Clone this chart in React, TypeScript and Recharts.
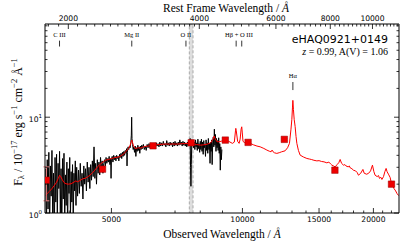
import React from 'react';
import {
  ComposedChart, Line, Scatter, XAxis, YAxis, ZAxis, ErrorBar,
  ReferenceArea, ReferenceLine, ReferenceDot,
} from 'recharts';

// ---------- DATA ----------
const redshift = 0.99;

// SDSS spectrum (observed wavelength [A], flux)
const sdssSpectrum: [number, number][] = [
  [3530, 2.9], [3545, 0.7], [3560, 3.6], [3575, 1.1], [3590, 4.3], [3605, 0.6], [3620, 3.1], [3635, 1.5],
  [3650, 4.5], [3665, 0.8], [3680, 2.6], [3695, 0.5], [3710, 3.8], [3725, 1.3], [3740, 4.1], [3755, 0.9],
  [3770, 3.3], [3785, 1.8], [3800, 4.4], [3815, 1.0], [3830, 2.9], [3845, 0.6], [3860, 3.7], [3875, 1.4],
  [3890, 4.2], [3905, 0.8], [3920, 2.5], [3935, 1.2], [3950, 3.4], [3965, 0.7], [3980, 2.9], [3995, 1.6],
  [4010, 3.8], [4025, 0.9], [4040, 2.7], [4055, 1.3], [4070, 3.2], [4085, 0.8], [4100, 2.6], [4115, 1.7],
  [4130, 3.5], [4145, 1.2], [4160, 3.0], [4180, 1.5], [4200, 2.8], [4220, 1.6], [4240, 3.3], [4260, 1.9],
  [4280, 2.6], [4300, 1.4], [4320, 3.1], [4340, 2.0], [4360, 2.9], [4380, 1.7], [4400, 3.4], [4420, 2.1],
  [4440, 3.0], [4460, 1.8], [4480, 3.2], [4500, 2.2], [4520, 3.5], [4540, 2.4], [4560, 4.9], [4580, 2.3],
  [4600, 3.3], [4620, 2.0], [4640, 3.6], [4660, 2.6], [4680, 3.4], [4700, 2.5], [4720, 3.8], [4740, 2.8],
  [4760, 3.5], [4780, 2.6], [4800, 3.3], [4820, 3.6], [4840, 3.1], [4860, 3.8], [4880, 3.3], [4900, 3.7],
  [4920, 3.4], [4940, 3.9], [4960, 3.2], [4980, 3.7], [4990, 2.3], [5000, 3.6], [5020, 3.9], [5040, 3.4],
  [5060, 4.0], [5080, 3.6], [5100, 3.9], [5120, 3.5], [5140, 4.0], [5160, 3.7], [5180, 3.9], [5200, 3.5],
  [5220, 4.1], [5240, 3.8], [5260, 4.2], [5280, 3.7], [5300, 4.3], [5320, 3.9], [5340, 4.4], [5360, 4.0],
  [5380, 4.5], [5400, 4.2], [5420, 4.7], [5430, 3.1], [5440, 4.3], [5460, 4.9], [5480, 4.6], [5500, 5.0],
  [5520, 4.8], [5540, 5.4], [5555, 6.5], [5565, 10.0], [5575, 6.0], [5590, 5.2], [5610, 4.6], [5630, 4.9],
  [5650, 4.3], [5670, 5.0], [5690, 3.9], [5710, 4.8], [5730, 4.4], [5750, 5.1], [5770, 4.5], [5790, 4.9],
  [5810, 4.2], [5830, 5.0], [5850, 4.6], [5870, 5.1], [5890, 4.7], [5920, 5.2], [5950, 4.6], [5980, 5.0],
  [6010, 4.5], [6040, 5.2], [6070, 4.8], [6100, 5.3], [6130, 4.8], [6160, 5.1], [6190, 4.7], [6220, 5.3],
  [6250, 4.9], [6280, 5.2], [6310, 4.8], [6340, 5.4], [6370, 5.0], [6400, 5.3], [6430, 4.9], [6460, 5.5],
  [6490, 5.0], [6520, 5.4], [6550, 5.0], [6580, 5.6], [6610, 5.1], [6640, 5.3], [6670, 4.9], [6700, 5.7],
  [6730, 5.1], [6760, 5.4], [6790, 5.0], [6820, 5.5], [6850, 5.1], [6880, 5.4], [6910, 4.9], [6940, 5.5],
  [6970, 5.0], [7000, 5.6], [7030, 5.1], [7060, 5.4], [7090, 5.0], [7120, 5.5], [7150, 5.1], [7180, 5.8],
  [7210, 5.2], [7240, 5.5], [7270, 5.0], [7300, 5.6], [7330, 5.1], [7360, 5.5], [7390, 5.0], [7420, 5.4],
  [7450, 4.9], [7480, 5.5], [7510, 5.0], [7540, 5.6], [7565, 5.2], [7585, 6.0], [7600, 3.0], [7615, 1.9],
  [7630, 3.2], [7650, 5.8], [7675, 5.2], [7700, 5.7], [7725, 4.8], [7750, 5.5], [7775, 4.6], [7800, 5.8],
  [7825, 4.9], [7850, 5.4], [7875, 4.5], [7900, 5.9], [7925, 4.7], [7950, 5.3], [7975, 4.3], [8000, 5.6],
  [8025, 4.6], [8050, 5.9], [8075, 4.4], [8100, 5.5], [8125, 4.1], [8150, 5.7], [8175, 4.8], [8200, 5.2],
  [8225, 3.9], [8250, 5.8], [8275, 4.5], [8300, 5.4], [8325, 4.2], [8350, 6.0], [8375, 4.6], [8400, 5.3],
  [8425, 3.3], [8450, 5.5], [8475, 4.4], [8500, 5.8], [8520, 3.2], [8545, 5.4], [8570, 6.2], [8595, 4.9],
  [8620, 7.5], [8645, 5.1], [8670, 6.6], [8695, 4.4], [8720, 6.0], [8745, 4.8], [8770, 5.7], [8795, 4.5],
  [8820, 6.1], [8845, 4.2], [8870, 5.3], [8895, 2.8], [8920, 4.9], [8945, 3.6], [8970, 4.6],
];

// Composite quasar model (observed wavelength [A], flux)
const modelSpectrum: [number, number][] = [
  [3530, 1.52], [3560, 1.60], [3600, 1.68], [3650, 1.80], [3700, 1.95], [3740, 2.10], [3775, 2.30],
  [3800, 2.48], [3820, 2.42], [3850, 2.25], [3890, 2.08], [3930, 2.02], [3980, 2.00], [4040, 2.02],
  [4100, 2.10], [4141, 2.16], [4180, 2.12], [4230, 2.18], [4300, 2.28], [4350, 2.30], [4406, 2.38],
  [4460, 2.48], [4520, 2.62], [4580, 2.80], [4642, 3.03], [4700, 3.20], [4788, 3.42], [4850, 3.56],
  [4920, 3.62], [5000, 3.70], [5080, 3.78], [5150, 3.82], [5208, 3.86], [5280, 4.00], [5340, 4.15],
  [5400, 4.40], [5470, 4.70], [5520, 5.10], [5555, 5.60], [5568, 5.77], [5585, 5.55], [5620, 5.00],
  [5660, 4.75], [5700, 4.70], [5760, 4.82], [5820, 4.75], [5890, 4.84], [5960, 4.95], [6050, 4.99],
  [6150, 5.05], [6268, 5.08], [6350, 5.15], [6450, 5.20], [6606, 5.24], [6700, 5.26], [6800, 5.22],
  [6900, 5.26], [7000, 5.24], [7090, 5.24], [7200, 5.28], [7350, 5.30], [7500, 5.32], [7612, 5.33],
  [7720, 5.25], [7850, 5.18], [8025, 5.11], [8150, 5.15], [8310, 5.24], [8450, 5.40], [8560, 5.90],
  [8610, 6.35], [8660, 5.95], [8740, 5.55], [8840, 5.54], [8950, 5.62], [9060, 5.75], [9159, 5.77],
  [9300, 5.60], [9484, 5.33], [9580, 5.50], [9640, 7.20], [9656, 7.65], [9680, 7.20], [9750, 5.60],
  [9827, 5.33], [9880, 5.90], [9930, 7.50], [9964, 7.94], [9990, 7.00], [10030, 5.60], [10100, 5.45],
  [10250, 5.40], [10417, 5.33], [10600, 5.15], [10800, 5.00], [10982, 4.91], [11200, 4.72], [11379, 4.54],
  [11550, 4.40], [11640, 4.36], [11700, 4.54], [11760, 4.36], [11850, 4.25], [11995, 4.19], [12150, 4.26],
  [12300, 4.35], [12534, 4.46], [12700, 4.80], [12826, 5.33], [12930, 7.5], [12990, 9.5], [13030, 12.5],
  [13060, 15.0], [13100, 12.0], [13150, 9.5], [13217, 8.0], [13280, 6.3], [13338, 5.33], [13450, 4.5],
  [13573, 4.02], [13800, 3.85], [14063, 3.71], [14250, 3.66], [14400, 3.62], [14600, 3.55], [14827, 3.50],
  [15000, 3.52], [15200, 3.45], [15400, 3.42], [15631, 3.34], [15800, 3.40], [15950, 3.25], [16052, 3.16],
  [16200, 3.10], [16333, 3.03], [16500, 3.20], [16650, 3.35], [16773, 3.62], [16900, 3.30], [17070, 3.16],
  [17200, 3.20], [17300, 3.10], [17500, 3.03], [17600, 3.10], [17700, 2.95], [17850, 2.90], [17990, 2.80],
  [18200, 2.75], [18350, 2.65], [18480, 2.48], [18700, 2.60], [18920, 2.85], [19050, 2.60], [19300, 2.54],
  [19500, 2.60], [19700, 2.75], [19900, 3.16], [20050, 2.70], [20180, 2.48], [20400, 2.40], [20550, 2.46],
  [20650, 2.30], [20800, 2.36], [20920, 2.24], [21100, 2.40], [21250, 2.70], [21390, 2.92], [21500, 2.70],
  [21700, 2.50], [21850, 2.35], [22050, 1.95], [22200, 1.88], [22300, 1.80], [22500, 1.70], [22650, 1.60],
  [22850, 1.52],
];

// Photometry: SDSS ugriz + UKIDSS YJHK
const photBands = ['u', 'g', 'r', 'i', 'z', 'Y', 'J', 'H', 'K'];
const photWl = [3543, 4770, 6231, 7625, 9134, 10305, 12483, 16313, 22010];
const photFlux = [2.2, 2.87, 5.03, 5.41, 5.77, 5.46, 5.87, 2.8, 2.0];
const photErrLow = [0.86, 0.12, 0.1, 0.1, 0.2, 0.15, 0.15, 0.1, 0.1];
const photErrHigh = [0.83, 0.12, 0.1, 0.1, 0.2, 0.15, 0.15, 0.1, 0.1];

// Emission lines (rest wavelength [A])
const lineNames = ['C III', 'Mg II', 'O II', 'Hβ', 'O III', 'Hα'];
const lineRest = [1909, 2798, 3727, 4861, 5007, 6563];

// Telluric band (observed)
const telluricBand = [7550, 7700];

// Axes
const obsDomain = [3518, 22900];
const fluxDomain = [1, 94];
const obsMajorTicks = [5000, 10000, 15000, 20000];
const obsMinorTicks = [4000, 6000, 7000, 8000, 9000, 11000, 12000, 13000, 14000, 16000, 17000, 18000, 19000, 21000, 22000];
const restMajorTicks = [2000, 4000, 6000, 8000, 10000];
const restMinorTicks = [
  1800, 1900, 2100, 2200, 2300, 2400, 2500, 2600, 2700, 2800, 2900, 3000, 3100, 3200, 3300, 3400, 3500, 3600,
  3700, 3800, 3900, 4200, 4400, 4600, 4800, 5000, 5200, 5400, 5600, 5800, 6200, 6400, 6600, 6800, 7000, 7200,
  7400, 7600, 7800, 8200, 8400, 8600, 8800, 9000, 9200, 9400, 9600, 9800, 10200, 10400, 10600, 10800, 11000,
  11200, 11400,
];
const yMajorTicks = [1, 10];
const yMajorLabels = ['0', '1'];
const yMinorTicks = [2, 3, 4, 5, 6, 7, 8, 9, 20, 30, 40, 50, 60, 70, 80, 90];

// ---------- DERIVED TABLES ----------
const sdssData = sdssSpectrum.map(([wl, f]) => ({ wl, f }));
const modelData = modelSpectrum.map(([wl, f]) => ({ wl, f }));
const photData = photWl.map((wl, i) => ({ band: photBands[i], wl, f: photFlux[i], err: [photErrLow[i], photErrHigh[i]] }));
const lineObs = lineRest.map((r) => r * (1 + redshift));
const restDomain = obsDomain.map((v) => v / (1 + redshift));

// ---------- STYLE ----------
const SANS = 'DejaVu Sans, sans-serif';
const SERIF = 'Liberation Serif, serif';
const TICK_FS = 7.6;
const MAJOR_LEN = 5;
const MINOR_LEN = 2.5;

const BottomTick = (p: any) => {
  const { x, y, payload } = p;
  const major = obsMajorTicks.includes(payload.value);
  return (
    <g>
      <line x1={x} x2={x} y1={y} y2={y - (major ? MAJOR_LEN : MINOR_LEN)} stroke="#000" strokeWidth={0.8} />
      {major && (
        <text x={x} y={y + 8.5} textAnchor="middle" fontSize={TICK_FS} fontFamily={SANS} fill="#000">{payload.value}</text>
      )}
    </g>
  );
};

const TopTick = (p: any) => {
  const { x, y, payload } = p;
  const major = restMajorTicks.includes(payload.value);
  return (
    <g>
      <line x1={x} x2={x} y1={y} y2={y + (major ? MAJOR_LEN : MINOR_LEN)} stroke="#000" strokeWidth={0.8} />
      {major && (
        <text x={x} y={y - 3} textAnchor="middle" fontSize={TICK_FS} fontFamily={SANS} fill="#000">{payload.value}</text>
      )}
    </g>
  );
};

const LeftTick = (p: any) => {
  const { x, y, payload } = p;
  const idx = yMajorTicks.indexOf(payload.value);
  const major = idx >= 0;
  return (
    <g>
      <line x1={x} x2={x + (major ? MAJOR_LEN : MINOR_LEN)} y1={y} y2={y} stroke="#000" strokeWidth={0.8} />
      {major && (
        <text x={x - 3} y={y + 4.5} textAnchor="end" fontSize={TICK_FS} fontFamily={SANS} fill="#000">
          10<tspan dy={-4} fontSize={5.5}>{yMajorLabels[idx]}</tspan>
        </text>
      )}
    </g>
  );
};

const RightTick = (p: any) => {
  const { x, y, payload } = p;
  const major = yMajorTicks.includes(payload.value);
  return <line x1={x} x2={x - (major ? MAJOR_LEN : MINOR_LEN)} y1={y} y2={y} stroke="#000" strokeWidth={0.8} />;
};

const lineLabel = (value: string) => ({
  value, position: 'center' as const, fontSize: 6.5, fontFamily: SERIF, fill: '#000',
});

export default function App() {
  const W = 407;
  const H = 242;
  return (
    <div style={{ position: 'absolute', left: 0, top: 0, width: W, height: H, background: '#fff' }}>
      <ComposedChart width={W} height={H} margin={{ top: 0, right: 0, bottom: 0, left: 0 }}>
        <XAxis xAxisId="obs" dataKey="wl" type="number" scale="log" domain={obsDomain} allowDataOverflow
          orientation="bottom" height={29} ticks={[...obsMajorTicks, ...obsMinorTicks]} interval={0}
          tick={BottomTick} tickLine={false} tickSize={0} tickMargin={0} axisLine={{ stroke: '#000', strokeWidth: 1 }} />
        <XAxis xAxisId="rest" dataKey="wl" type="number" scale="log" domain={restDomain} allowDataOverflow
          orientation="top" height={24} ticks={[...restMajorTicks, ...restMinorTicks]} interval={0}
          tick={TopTick} tickLine={false} tickSize={0} tickMargin={0} axisLine={{ stroke: '#000', strokeWidth: 1 }} />
        <YAxis yAxisId="y" dataKey="f" type="number" scale="log" domain={fluxDomain} allowDataOverflow
          orientation="left" width={45} ticks={[...yMajorTicks, ...yMinorTicks]} interval={0}
          tick={LeftTick} tickLine={false} tickSize={0} tickMargin={0} axisLine={{ stroke: '#000', strokeWidth: 1 }} />
        <YAxis yAxisId="yr" dataKey="f" type="number" scale="log" domain={fluxDomain} allowDataOverflow
          orientation="right" width={8} ticks={[...yMajorTicks, ...yMinorTicks]} interval={0}
          tick={RightTick} tickLine={false} tickSize={0} tickMargin={0} axisLine={{ stroke: '#000', strokeWidth: 1 }} />
        <ZAxis range={[42, 42]} />

        <ReferenceArea xAxisId="obs" yAxisId="y" x1={telluricBand[0]} x2={telluricBand[1]}
          fill="#c8c8c8" fillOpacity={0.6} stroke="#999" strokeDasharray="3 2" strokeWidth={0.8} ifOverflow="hidden" />

        <Line xAxisId="obs" yAxisId="y" data={sdssData} dataKey="f" stroke="#000" strokeWidth={1}
          dot={false} isAnimationActive={false} type="linear" />
        <Line xAxisId="obs" yAxisId="y" data={modelData} dataKey="f" stroke="#ff0000" strokeWidth={1}
          dot={false} isAnimationActive={false} type="linear" />
        <Scatter xAxisId="obs" yAxisId="y" data={photData} dataKey="f" shape="square" fill="#ee0000"
          stroke="#990000" strokeWidth={0.5} isAnimationActive={false}>
          <ErrorBar dataKey="err" direction="y" stroke="#f08080" strokeWidth={1} width={3} />
        </Scatter>

        {/* emission line markers */}
        <ReferenceLine xAxisId="obs" yAxisId="y" segment={[{ x: lineObs[0], y: 54.7 }, { x: lineObs[0], y: 63 }]} stroke="#000" strokeWidth={0.8} />
        <ReferenceLine xAxisId="obs" yAxisId="y" segment={[{ x: lineObs[1], y: 54.7 }, { x: lineObs[1], y: 63 }]} stroke="#000" strokeWidth={0.8} />
        <ReferenceLine xAxisId="obs" yAxisId="y" segment={[{ x: lineObs[2], y: 54.7 }, { x: lineObs[2], y: 63 }]} stroke="#000" strokeWidth={0.8} />
        <ReferenceLine xAxisId="obs" yAxisId="y" segment={[{ x: lineObs[3], y: 54.7 }, { x: lineObs[3], y: 63 }]} stroke="#000" strokeWidth={0.8} />
        <ReferenceLine xAxisId="obs" yAxisId="y" segment={[{ x: lineObs[4], y: 54.7 }, { x: lineObs[4], y: 63 }]} stroke="#000" strokeWidth={0.8} />
        <ReferenceLine xAxisId="obs" yAxisId="y" segment={[{ x: lineObs[5], y: 19.2 }, { x: lineObs[5], y: 23.3 }]} stroke="#000" strokeWidth={0.8} />

        <ReferenceDot xAxisId="obs" yAxisId="y" x={lineObs[0]} y={73} r={0} fill="none" stroke="none" ifOverflow="visible" label={lineLabel(lineNames[0])} />
        <ReferenceDot xAxisId="obs" yAxisId="y" x={lineObs[1]} y={73} r={0} fill="none" stroke="none" ifOverflow="visible" label={lineLabel(lineNames[1])} />
        <ReferenceDot xAxisId="obs" yAxisId="y" x={lineObs[2]} y={73} r={0} fill="none" stroke="none" ifOverflow="visible" label={lineLabel(lineNames[2])} />
        <ReferenceDot xAxisId="obs" yAxisId="y" x={Math.sqrt(lineObs[3] * lineObs[4])} y={73} r={0} fill="none" stroke="none" ifOverflow="visible" label={lineLabel(`${lineNames[3]} + ${lineNames[4]}`)} />
        <ReferenceDot xAxisId="obs" yAxisId="y" x={lineObs[5]} y={26.9} r={0} fill="none" stroke="none" ifOverflow="visible" label={lineLabel(lineNames[5])} />
      </ComposedChart>

      <svg width={W} height={H} style={{ position: 'absolute', left: 0, top: 0, pointerEvents: 'none' }}>
        <text x={226} y={11.5} textAnchor="middle" fontFamily={SERIF} fontSize={11.5} fill="#000">
          Rest Frame Wavelength / <tspan fontStyle="italic">Å</tspan>
        </text>
        <text x={222} y={238} textAnchor="middle" fontFamily={SERIF} fontSize={11.5} fill="#000">
          Observed Wavelength / <tspan fontStyle="italic">Å</tspan>
        </text>
        <text transform="translate(21.5,122) rotate(-90)" textAnchor="middle" fontFamily={SERIF} fontSize={12} fill="#000">
          F<tspan dy={2.5} fontSize={8.5}>λ</tspan>
          <tspan dy={-2.5}> / 10</tspan>
          <tspan dy={-4.5} fontSize={8.5}>−17</tspan>
          <tspan dy={4.5}> erg s</tspan>
          <tspan dy={-4.5} fontSize={8.5}>−1</tspan>
          <tspan dy={4.5}> cm</tspan>
          <tspan dy={-4.5} fontSize={8.5}>−2</tspan>
          <tspan dy={4.5}> Å</tspan>
          <tspan dy={-4.5} fontSize={8.5}>−1</tspan>
        </text>
        <text x={388} y={43} textAnchor="end" fontFamily={SANS} fontSize={11} fill="#000">eHAQ0921+0149</text>
        <text x={388} y={55} textAnchor="end" fontFamily={SERIF} fontSize={10} fill="#000">
          <tspan fontStyle="italic">z</tspan> = 0.99, A(V) = 1.06
        </text>
      </svg>
    </div>
  );
}
